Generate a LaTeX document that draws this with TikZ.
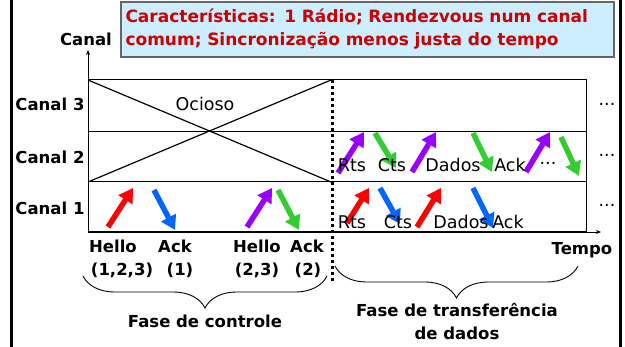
\documentclass[tikz,border=0pt]{standalone}
\usepackage{fontspec}
\setmainfont{DejaVu Sans}
\usetikzlibrary{arrows.meta,decorations.pathreplacing}
\definecolor{boxblue}{HTML}{CCEEFF}
\definecolor{titlered}{HTML}{CC0000}
\definecolor{sigred}{HTML}{FF0000}
\definecolor{sigblue}{HTML}{0066FF}
\definecolor{sigpurple}{HTML}{9900FF}
\definecolor{siggreen}{HTML}{33CC33}

\begin{document}
\begin{tikzpicture}[x=1pt,y=-1pt,
  lbl/.style={font=\fontsize{16.5}{18}\selectfont\bfseries,inner sep=1pt},
  msg/.style={font=\fontsize{17.5}{19}\selectfont,inner sep=1pt},
  sig/.style={line width=5.5pt,-{Triangle[width=16pt,length=14pt]}},
  phase/.style={decorate,decoration={brace,mirror,amplitude=32pt},line width=0.9pt}]
\useasboundingbox (0,0) rectangle (625,347);
% frame of the slide
\draw[line width=3pt] (11,0)--(11,347);
\draw[line width=3pt] (620,0)--(620,347);
% info box
\node[draw=gray!80!black,line width=1.3pt,fill=boxblue,text=titlered,minimum width=493pt,minimum height=55pt,text width=484pt,align=left,inner sep=4pt,font=\fontsize{17}{23}\selectfont\bfseries] (info) at (367.5,29.5) {Características: 1 Rádio; Rendezvous num canal\\comum; Sincronização menos justa do tempo};
% axes
\coordinate (o) at (88,232);
\coordinate (ytip) at (88,50);
\coordinate (xtip) at (601,232);
\draw[line width=0.8pt,-{Stealth[length=5pt,width=4pt]}] (o)--(ytip);
\draw[line width=0.8pt,-{Stealth[length=5pt,width=4pt]}] (o)--(xtip);
\node[lbl] (ylab) at (86,39) {Canal};
\node[lbl] (xlab) at (582,250) {Tempo};
% channel rows
\draw[line width=1pt] (88,80) rectangle (586,232);
\draw[line width=1pt] (88,132)--(586,132);
\draw[line width=1pt] (88,182)--(586,182);
\node[lbl] (c3) at (50,104) {Canal 3};
\node[lbl] (c2) at (50,157) {Canal 2};
\node[lbl] (c1) at (50,208) {Canal 1};
\node[msg] (d3) at (607,104) {...};
\node[msg] (d2) at (607,155) {...};
\node[msg] (d1) at (607,205) {...};
% idle channels
\draw[line width=1.2pt] (88,80)--(331,182);
\draw[line width=1.2pt] (88,182)--(331,80);
\node[msg] (idle) at (205,104) {Ocioso};
\draw[line width=3pt,dash pattern=on 3pt off 3pt] (332,80)--(332,282);
% control phase on canal 1
\draw[sig,sigred] (108,227)--(133,188);
\draw[sig,sigblue] (154,190)--(175,230);
\draw[sig,sigpurple] (247,227)--(272,188);
\draw[sig,siggreen] (278,190)--(299,230);
\node[lbl] (h1) at (113,246) {Hello};
\node[lbl] (a1) at (175,246) {Ack};
\node[lbl] (h2) at (257,246) {Hello};
\node[lbl] (a2) at (307,246) {Ack};
\node[lbl] (h1n) at (122,270) {(1,2,3)};
\node[lbl] (a1n) at (180,270) {(1)};
\node[lbl] (h2n) at (257,270) {(2,3)};
\node[lbl] (a2n) at (308,270) {(2)};
% data phase on canal 2
\draw[sig,sigpurple] (338,173)--(364,132);
\draw[sig,siggreen] (375,133)--(396,168);
\draw[sig,sigpurple] (412,172)--(436,132);
\draw[sig,siggreen] (473,133)--(492,172);
\draw[sig,sigpurple] (526,172)--(550,132);
\draw[sig,siggreen] (561,137)--(579,176);
\node[msg] (rts2) at (352,165) {Rts};
\node[msg] (cts2) at (392,165) {Cts};
\node[msg] (dat2) at (453,165) {Dados};
\node[msg] (ack2) at (510,165) {Ack};
\node[msg] (etc2) at (548,163) {...};
% data phase on canal 1
\draw[sig,sigred] (347,223)--(369,188);
\draw[sig,sigblue] (380,188)--(400,224);
\draw[sig,sigred] (417,227)--(441,188);
\draw[sig,sigblue] (473,188)--(493,228);
\node[msg] (rts1) at (352,222) {Rts};
\node[msg] (cts1) at (398,222) {Cts};
\node[msg] (dat1) at (461,222) {Dados};
\node[msg] (ack1) at (508,222) {Ack};
% phases
\draw[phase] (83,276)--(327,276);
\draw[phase] (335,266)--(578,266);
\node[lbl] (fc) at (205,321) {Fase de controle};
\node[lbl,align=center,font=\fontsize{16.5}{23}\selectfont\bfseries] (fd) at (457,322) {Fase de transferência\\de dados};
\end{tikzpicture}
\end{document}
